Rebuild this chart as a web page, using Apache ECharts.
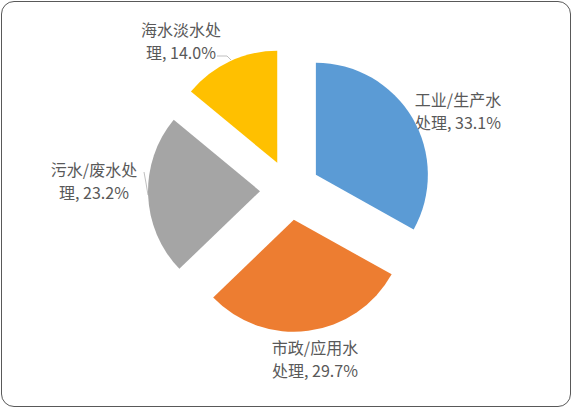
<!DOCTYPE html>
<html>
<head>
<meta charset="utf-8">
<script src="https://cdn.jsdelivr.net/npm/echarts@6/dist/echarts.min.js"></script>
<style>
  html, body { margin: 0; padding: 0; background: #fff; }
  #chart { position: absolute; left: 0; top: 0; width: 573px; height: 409px; }
  #frame {
    position: absolute; left: 1px; top: 1px; width: 568px; height: 404px;
    border: 1.4px solid #595959; border-radius: 13px; pointer-events: none;
  }
</style>
</head>
<body>
<div id="chart"></div>
<div id="frame"></div>
<script>
// 数据
var names = ["工业/生产水处理", "市政/应用水处理", "污水/废水处理", "海水淡水处理"];
var shares = [33.1, 29.7, 23.2, 14.0];
var labelText = ["工业/生产水\n处理, 33.1%", "市政/应用水\n处理, 29.7%", "污水/废水处\n理, 23.2%", "海水淡水处\n理, 14.0%"];
var colors = ["#5B9BD5", "#ED7D31", "#A5A5A5", "#FFC000"];

// 标签位置 (文字中心) 与引导线
var labelPos = [[458, 110], [315, 358], [94, 180], [181, 40]];
var leaderLines = [null, null, [[144, 172], [146, 183], [148, 195]], [[217, 56], [227, 56], [231, 60]]];

var chart = echarts.init(document.getElementById("chart"), null, { renderer: "svg" });

var data = [];
for (var i = 0; i < names.length; i++) {
    data.push({
        name: names[i],
        value: shares[i],
        selected: true,
        itemStyle: { color: colors[i] }
    });
}

var graphics = [];
for (var i = 0; i < labelText.length; i++) {
    graphics.push({
        type: "text",
        x: labelPos[i][0],
        y: labelPos[i][1],
        silent: true,
        style: {
            text: labelText[i],
            fill: "#595959",
            fontSize: 16,
            lineHeight: 23,
            fontFamily: "Noto Sans CJK SC",
            align: "center",
            verticalAlign: "middle"
        }
    });
    if (leaderLines[i]) {
        graphics.push({
            type: "polyline",
            silent: true,
            shape: { points: leaderLines[i] },
            style: { stroke: "#BFBFBF", lineWidth: 1, fill: null }
        });
    }
}

var option = {
    animation: false,
    graphic: graphics,
    series: [{
        type: "pie",
        center: [290, 190],
        radius: 112,
        startAngle: 90,
        clockwise: true,
        selectedMode: "multiple",
        selectedOffset: 30,
        emphasis: { disabled: true },
        itemStyle: { borderWidth: 0 },
        label: { show: false },
        labelLine: { show: false },
        data: data
    }]
};
chart.setOption(option);
</script>
</body>
</html>
